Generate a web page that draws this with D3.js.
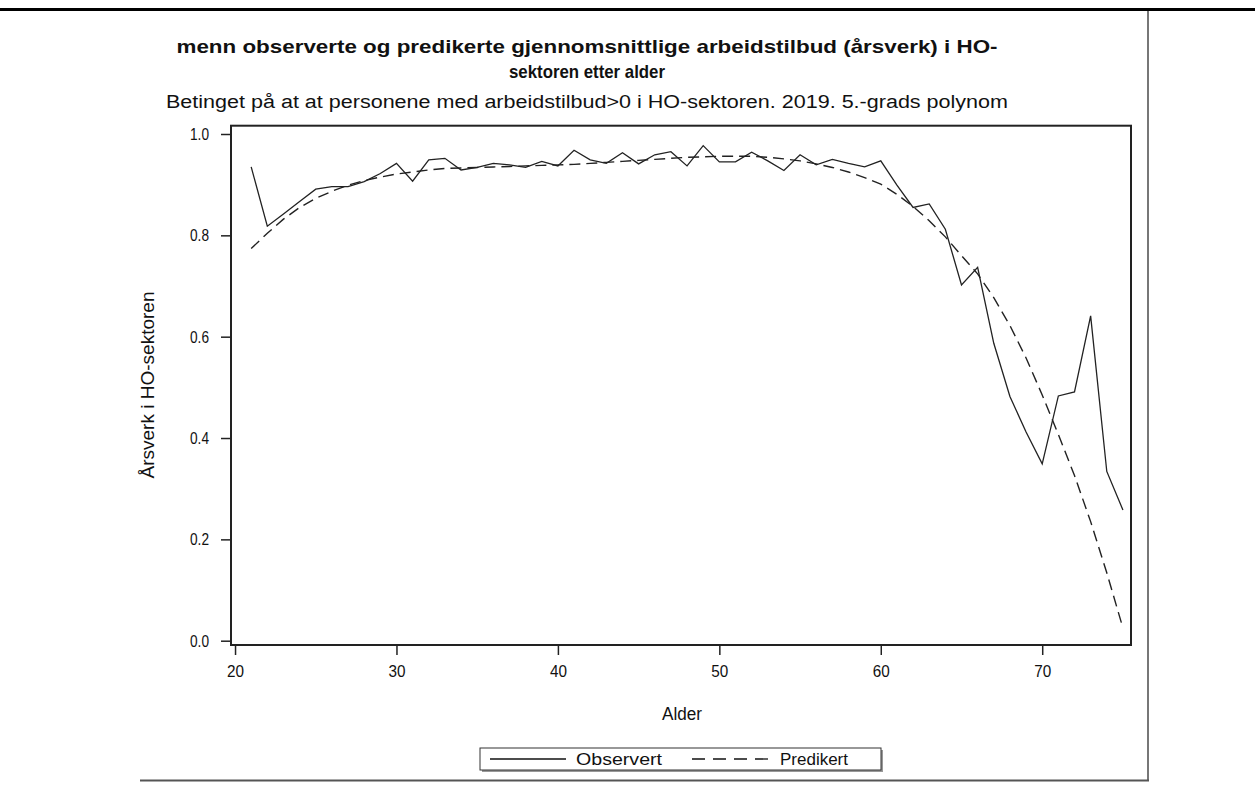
<!DOCTYPE html>
<html><head><meta charset="utf-8">
<script src="https://cdn.jsdelivr.net/npm/d3@7/dist/d3.min.js"></script>
<style>
html,body{margin:0;padding:0;background:#fff;}
svg{display:block;}
text{font-family:"Liberation Sans",Arial,sans-serif;fill:#111;}
</style></head>
<body>
<svg id="c" width="1255" height="790"></svg>
<script>
const ages = d3.range(21, 76);
const observed = [0.935,0.818,0.842,0.867,0.891,0.896,0.896,0.906,0.922,0.942,
  0.907,0.949,0.952,0.929,0.934,0.942,0.939,0.934,0.946,0.937,
  0.968,0.949,0.942,0.963,0.941,0.959,0.965,0.937,0.977,0.945,
  0.945,0.964,0.947,0.928,0.959,0.939,0.950,0.942,0.935,0.947,
  0.899,0.855,0.862,0.812,0.702,0.737,0.587,0.482,0.412,0.349,
  0.483,0.491,0.641,0.334,0.258];
const predicted = [0.774,0.804,0.832,0.855,0.873,0.887,0.899,0.908,0.915,0.921,
  0.925,0.929,0.932,0.933,0.934,0.935,0.936,0.937,0.938,0.939,
  0.940,0.942,0.944,0.946,0.948,0.950,0.952,0.954,0.955,0.956,
  0.956,0.956,0.954,0.951,0.947,0.941,0.934,0.925,0.914,0.901,
  0.881,0.857,0.829,0.797,0.760,0.724,0.677,0.622,0.558,0.485,
  0.407,0.326,0.235,0.134,0.025];
const xTicks = [20,30,40,50,60,70];
const yTicks = [0.0,0.2,0.4,0.6,0.8,1.0];
const titleLines = ["menn observerte og predikerte gjennomsnittlige arbeidstilbud (årsverk) i HO-","sektoren etter alder"];
const subtitle = "Betinget på at at personene med arbeidstilbud>0 i HO-sektoren. 2019. 5.-grads polynom";
const xLabel = "Alder";
const yLabel = "Årsverk i HO-sektoren";
const seriesNames = ["Observert","Predikert"];

const svg = d3.select("#c");
const L = 231, R = 1131, T = 125.7, B = 645;
const x = d3.scaleLinear().domain([19.75, 75.5]).range([L, R]);
const y = d3.scaleLinear().domain([0, 1]).range([640.7, 134]);

// page decorations
svg.append("line").attr("x1",0).attr("x2",1255).attr("y1",9.5).attr("y2",9.5).attr("stroke","#000").attr("stroke-width",3);
svg.append("line").attr("x1",1148).attr("x2",1148).attr("y1",11).attr("y2",781).attr("stroke","#777").attr("stroke-width",2);
svg.append("line").attr("x1",140).attr("x2",1149).attr("y1",780.5).attr("y2",780.5).attr("stroke","#555").attr("stroke-width",2);

// titles
const cx = 587;
svg.append("text").attr("x",cx).attr("y",53).attr("text-anchor","middle").attr("font-weight","bold").attr("font-size",19)
  .attr("textLength",821).attr("lengthAdjust","spacingAndGlyphs").text(titleLines[0]);
svg.append("text").attr("x",cx).attr("y",78).attr("text-anchor","middle").attr("font-weight","bold").attr("font-size",19)
  .attr("textLength",156).attr("lengthAdjust","spacingAndGlyphs").text(titleLines[1]);
svg.append("text").attr("x",cx).attr("y",108).attr("text-anchor","middle").attr("font-size",18)
  .attr("textLength",842).attr("lengthAdjust","spacingAndGlyphs").text(subtitle);

// axes
const yAxis = d3.axisLeft(y).tickValues(yTicks).tickFormat(d3.format(".1f")).tickSize(10).tickPadding(12);
const gy = svg.append("g").attr("transform",`translate(${L},0)`).call(yAxis);
const xAxis = d3.axisBottom(x).tickValues(xTicks).tickFormat(d3.format("d")).tickSize(10).tickPadding(10);
const gx = svg.append("g").attr("transform",`translate(0,${B})`).call(xAxis);
[gy,gx].forEach(g=>{
  g.select(".domain").remove();
  g.selectAll(".tick line").attr("stroke","#222").attr("stroke-width",1.5);
  g.selectAll(".tick text").attr("font-size",17).attr("fill","#111").attr("font-family","Liberation Sans, Arial, sans-serif");
});
gy.selectAll(".tick text").attr("textLength",19).attr("lengthAdjust","spacingAndGlyphs");
gx.selectAll(".tick text").attr("textLength",17).attr("lengthAdjust","spacingAndGlyphs");

// frame
svg.append("rect").attr("x",L).attr("y",T).attr("width",R-L).attr("height",B-T)
  .attr("fill","none").attr("stroke","#222").attr("stroke-width",2);

// axis labels
svg.append("text").attr("x",682).attr("y",720).attr("text-anchor","middle").attr("font-size",18)
  .attr("textLength",40).attr("lengthAdjust","spacingAndGlyphs").text(xLabel);
svg.append("text").attr("transform","translate(154,385) rotate(-90)").attr("text-anchor","middle").attr("font-size",18)
  .attr("textLength",187).attr("lengthAdjust","spacingAndGlyphs").text(yLabel);

// lines
const obsData = ages.map((a,i)=>[a,observed[i]]);
const preData = ages.map((a,i)=>[a,predicted[i]]);
const line = d3.line().x(d=>x(d[0])).y(d=>y(d[1]));
svg.append("path").datum(preData).attr("d",line).attr("fill","none").attr("stroke","#222").attr("stroke-width",1.4).attr("stroke-dasharray","11,6");
svg.append("path").datum(obsData).attr("d",line).attr("fill","none").attr("stroke","#222").attr("stroke-width",1.3);

// legend
const lg = svg.append("g");
lg.append("rect").attr("x",482).attr("y",750).attr("width",401).attr("height",22).attr("fill","#999");
lg.append("rect").attr("x",480).attr("y",748).attr("width",401).attr("height",22).attr("fill","#fff").attr("stroke","#333").attr("stroke-width",1);
lg.append("line").attr("x1",490).attr("x2",566).attr("y1",759).attr("y2",759).attr("stroke","#111").attr("stroke-width",1.3);
lg.append("text").attr("x",576).attr("y",765).attr("font-size",16).attr("textLength",86).attr("lengthAdjust","spacingAndGlyphs").text(seriesNames[0]);
lg.append("line").attr("x1",692).attr("x2",768).attr("y1",759).attr("y2",759).attr("stroke","#111").attr("stroke-width",1.3).attr("stroke-dasharray","13,8");
lg.append("text").attr("x",780).attr("y",765).attr("font-size",16).attr("textLength",68).attr("lengthAdjust","spacingAndGlyphs").text(seriesNames[1]);
</script>
</body></html>
